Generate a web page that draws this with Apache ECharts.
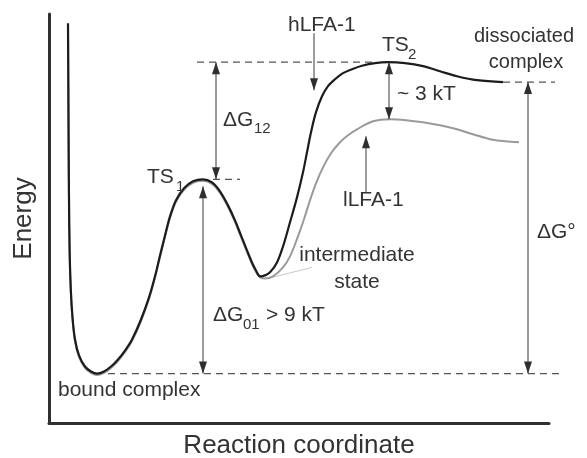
<!DOCTYPE html>
<html>
<head>
<meta charset="utf-8">
<script src="https://cdn.jsdelivr.net/npm/echarts/dist/echarts.min.js"></script>
<style>
  html, body { margin: 0; padding: 0; background: #fff; }
  #chart { width: 587px; height: 458px; }
</style>
</head>
<body>
<div id="chart"></div>
<script>
// Free-energy profile along the reaction coordinate (0-100), energy in kT.
// High-affinity LFA-1 (hLFA-1) pathway.
const hlfaCoord = [3.8, 3.86, 3.92, 4.0, 4.12, 4.36, 4.7, 5.2, 6.0, 7.2, 8.4, 9.6, 11.0, 12.4, 13.8, 15.2, 16.6, 18.4, 20.0, 21.2,
  22.2, 23.2, 24.2, 25.4, 27.0, 28.8, 30.8, 32.6, 34.2, 35.8, 37.2, 38.4, 39.6, 40.6, 41.4, 42.2, 43.2, 44.2, 45.6, 46.8,
  48.2, 49.6, 50.8, 51.6, 52.4, 53.4, 54.6, 55.8, 57.2, 58.8, 60.6, 62.6, 65.2, 67.8, 71.2, 74.8, 78.2, 81.6, 85.6, 90.8];
const hlfaEnergy = [18.42, 15.47, 12.32, 9.16, 6.53, 4.42, 2.95, 1.79, 0.95, 0.37, 0.11, 0.00, 0.11, 0.37, 0.74, 1.21, 1.79, 2.84, 4.00, 5.11,
  6.21, 7.26, 8.26, 9.11, 9.74, 10.11, 10.21, 10.05, 9.58, 8.84, 8.05, 7.26, 6.47, 5.84, 5.42, 5.11, 5.16, 5.32, 5.84, 6.68,
  7.95, 9.26, 10.58, 11.63, 12.68, 13.74, 14.58, 15.11, 15.47, 15.79, 16.00, 16.18, 16.32, 16.37, 16.32, 16.16, 15.89, 15.63, 15.42, 15.32];

// Low-affinity LFA-1 (lLFA-1) pathway.
const llfaCoord = [3.8, 3.86, 3.92, 4.0, 4.12, 4.36, 4.7, 5.2, 6.0, 7.2, 8.4, 9.6, 11.0, 12.4, 13.8, 15.2, 16.6, 18.4, 20.0, 21.2,
  22.2, 23.2, 24.2, 25.4, 27.0, 28.8, 30.8, 32.6, 34.2, 35.8, 37.2, 38.4, 39.6, 40.6, 41.4, 42.4, 43.2, 44.8, 46.8, 48.2,
  49.8, 51.0, 52.2, 53.4, 54.8, 56.4, 58.2, 59.8, 61.6, 64.8, 68.2, 71.4, 74.8, 78.2, 81.6, 84.8, 88.2, 91.2, 94.0];
const llfaEnergy = [18.34, 15.39, 12.24, 9.08, 6.45, 4.34, 2.87, 1.71, 0.87, 0.29, 0.03, -0.08, 0.03, 0.29, 0.66, 1.13, 1.71, 2.76, 3.92, 5.03,
  6.13, 7.18, 8.18, 9.03, 9.66, 10.03, 10.13, 9.97, 9.50, 8.76, 7.97, 7.18, 6.39, 5.76, 5.34, 5.03, 5.00, 5.11, 5.58, 6.16,
  7.21, 8.11, 9.11, 10.00, 10.84, 11.58, 12.16, 12.53, 12.84, 13.26, 13.37, 13.32, 13.21, 13.05, 12.84, 12.58, 12.32, 12.21, 12.16];

// Characteristic energy levels (kT).
const E_BOUND = 0;
const E_TS1 = 10.21;
const E_TS2_HIGH = 16.37;
const E_TS2_LOW = 13.37;
const E_DISSOC = 15.32;

// Dashed reference levels: [coordStart, coordEnd, energy].
const guideLines = [
  [29.6, 65.2, E_TS2_HIGH],
  [32.8, 38.2, E_TS1],
  [90.8, 101.2, E_DISSOC],
  [11.8, 102.2, E_BOUND]
];

// Vertical arrows: [coord, energyFrom, energyTo, headAtFrom, headAtTo].
const arrows = [
  [33.4, E_TS2_HIGH, E_TS1, 1, 1],     // ΔG12
  [30.8, E_BOUND, 9.84, 1, 1],         // ΔG01
  [68.0, E_TS2_HIGH, E_TS2_LOW, 1, 1], // ~3 kT
  [53.0, 17.89, 14.89, 0, 1],          // hLFA-1 pointer
  [63.4, 9.53, 12.47, 0, 1],           // lLFA-1 pointer
  [95.8, E_DISSOC, E_BOUND, 1, 1]      // ΔG°
];

// Thin leader from the intermediate well towards its label.
const leaderCoord = [43.8, 52.6];
const leaderEnergy = [5.0, 5.58];

const FONT = "'Liberation Sans', Arial, Helvetica, sans-serif";
const INK = '#333333';
const LABEL = 21;
const SUB = 15;

function zip(xs, ys) { return xs.map((x, i) => [x, ys[i]]); }

// Text placed by its left (or centre) x and its baseline y, in pixels.
function text(str, x, baseline, size, align) {
  const fs = size || LABEL;
  return {
    type: 'text', silent: true, x: x, y: baseline - 0.35 * fs, z: 100,
    style: { text: str, fill: INK, font: fs + 'px ' + FONT, align: align || 'left', verticalAlign: 'middle' }
  };
}

const labels = [
  text('TS', 147, 185), text('1', 176, 192, SUB),
  text('ΔG', 223, 128), text('12', 254, 134, SUB),
  text('hLFA-1', 288, 33),
  text('TS', 382, 53), text('2', 408, 60, SUB),
  text('dissociated', 524, 43, 20, 'center'), text('complex', 526, 69, 20, 'center'),
  text('~ 3 kT', 397, 102),
  text('lLFA-1', 343, 208),
  text('intermediate', 357, 263, LABEL, 'center'), text('state', 357, 290, LABEL, 'center'),
  text('ΔG°', 537, 240),
  text('ΔG', 213, 323), text('01', 243, 330, SUB), text('> 9 kT', 266, 323),
  text('bound complex', 58, 398)
];

const chart = echarts.init(document.getElementById('chart'), null, { renderer: 'canvas' });

const axisCommon = {
  type: 'value',
  nameLocation: 'middle',
  nameTextStyle: { fontSize: 26, color: INK, fontFamily: FONT },
  axisLine: { show: true, onZero: false, lineStyle: { color: '#303030', width: 3 } },
  axisTick: { show: false },
  axisLabel: { show: false },
  splitLine: { show: false }
};

chart.setOption({
  animation: false,
  backgroundColor: '#ffffff',
  grid: { left: 49, right: 38, top: 14, bottom: 35, containLabel: false, outerBoundsMode: 'none' },
  xAxis: Object.assign({}, axisCommon, { min: 0, max: 100, name: 'Reaction coordinate', nameGap: 10 }),
  yAxis: Object.assign({}, axisCommon, { min: -2.6, max: 18.9, name: 'Energy', nameGap: 12, nameRotate: 90 }),
  series: [
    {
      name: 'lLFA-1', type: 'line', data: zip(llfaCoord, llfaEnergy), smooth: 0.35,
      showSymbol: false, clip: false, z: 2,
      lineStyle: { color: '#9a9a9a', width: 2 }
    },
    {
      name: 'hLFA-1', type: 'line', data: zip(hlfaCoord, hlfaEnergy), smooth: 0.35,
      showSymbol: false, clip: false, z: 3,
      lineStyle: { color: '#1c1c1c', width: 2.2 }
    },
    {
      name: 'leader', type: 'line', data: zip(leaderCoord, leaderEnergy),
      showSymbol: false, z: 1,
      lineStyle: { color: '#c8c8c8', width: 1 }
    },
    {
      name: 'levels', type: 'custom', clip: false, z: 1,
      data: guideLines,
      encode: { x: [0, 1], y: 2 },
      renderItem: function (params, api) {
        const p1 = api.coord([api.value(0), api.value(2)]);
        const p2 = api.coord([api.value(1), api.value(2)]);
        return {
          type: 'line',
          shape: { x1: p1[0], y1: p1[1], x2: p2[0], y2: p2[1] },
          style: { stroke: '#555555', lineWidth: 1.2, lineDash: [7, 5] }
        };
      }
    },
    {
      name: 'arrows', type: 'custom', clip: false, z: 4,
      data: arrows,
      encode: { x: 0, y: [1, 2] },
      renderItem: function (params, api) {
        const a = api.coord([api.value(0), api.value(1)]);
        const b = api.coord([api.value(0), api.value(2)]);
        const dir = b[1] > a[1] ? 1 : -1;
        const w = 8, L = 12;
        const children = [{
          type: 'line',
          shape: { x1: a[0], y1: a[1], x2: b[0], y2: b[1] },
          style: { stroke: '#3a3a3a', lineWidth: 1 }
        }];
        if (api.value(3)) {
          children.push({
            type: 'polygon',
            shape: { points: [[a[0], a[1]], [a[0] - w / 2, a[1] + dir * L], [a[0] + w / 2, a[1] + dir * L]] },
            style: { fill: '#2e2e2e' }
          });
        }
        if (api.value(4)) {
          children.push({
            type: 'polygon',
            shape: { points: [[b[0], b[1]], [b[0] - w / 2, b[1] - dir * L], [b[0] + w / 2, b[1] - dir * L]] },
            style: { fill: '#2e2e2e' }
          });
        }
        return { type: 'group', children: children };
      }
    }
  ],
  graphic: labels
});
</script>
</body>
</html>
